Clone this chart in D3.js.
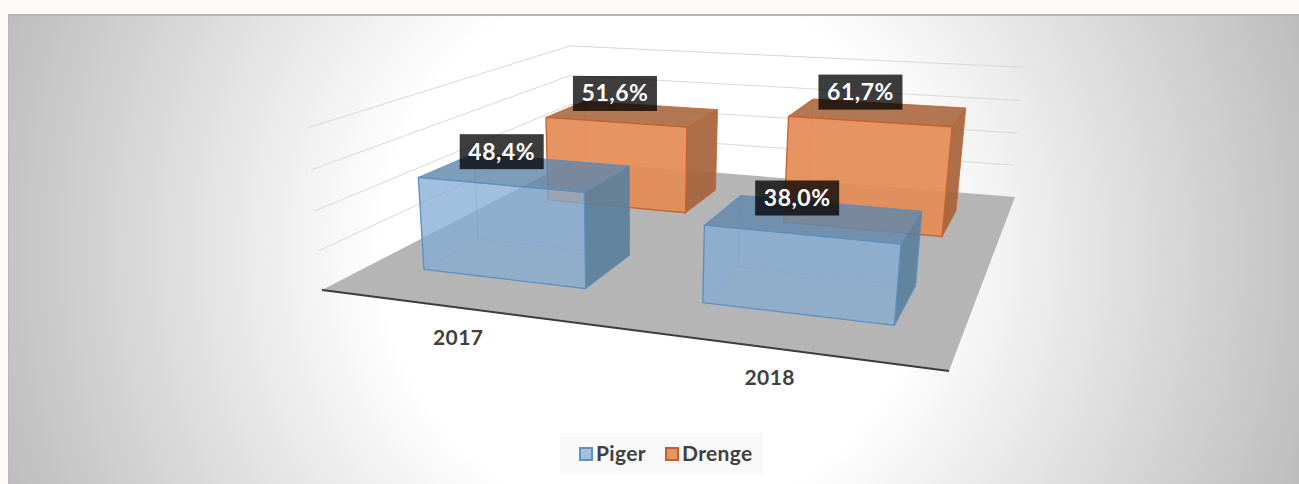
<!DOCTYPE html>
<html><head><meta charset="utf-8">
<script src="https://cdn.jsdelivr.net/npm/d3@7"></script>
<style>html,body{margin:0;padding:0;background:#fcfbf7;overflow:hidden}svg{display:block}text{font-family:Lato,sans-serif;font-weight:700}</style>
</head><body><svg id="c" width="1299" height="484"></svg>
<script>
const categories = ["2017","2018"];
const piger = [48.4,38.0];
const drenge = [51.6,61.7];
const valueLabels = {Piger:["48,4%","38,0%"],Drenge:["51,6%","61,7%"]};
const gridTicks = [20,40,60,80];
const legendItems = ["Piger","Drenge"];

const svg = d3.select("#c");
const defs = svg.append("defs");
const grad = defs.append("radialGradient").attr("id","bg").attr("gradientUnits","userSpaceOnUse")
  .attr("cx",652).attr("cy",250).attr("r",700);
grad.append("stop").attr("offset",.386).attr("stop-color","#fff");
grad.append("stop").attr("offset",1).attr("stop-color","#bbb");
svg.append("rect").attr("x",8).attr("y",14).attr("width",1291).attr("height",470).attr("fill","url(#bg)");
svg.append("rect").attr("x",8).attr("y",14).attr("width",1291).attr("height",2).attr("fill","#b8b8b8");
svg.append("rect").attr("x",8).attr("y",14).attr("width",1).attr("height",470).attr("fill","#b8b8b8");

// Projection of the chart's 3D box (u across, v depth, w height) on to the picture
const M = {a:468,b:501.86,c:322,p:-29, d:18.85,e:-58.11,f:290,q:-167.9, g:-.1675,h:.4403,r:-.046};
const project = (u,v,w)=>{
  const k = M.g*u+M.h*v+M.r*w+1;
  return [(M.a*u+M.b*v+M.c+M.p*w)/k,(M.d*u+M.e*v+M.f+M.q*w)/k];
};
const uScale = d3.scaleBand().domain(categories).range([0,1]).paddingInner(.4).paddingOuter(.2);
const vScale = d3.scaleBand().domain(["Piger","Drenge"]).range([0,1]).paddingInner(.61).paddingOuter(.305);
const wScale = d3.scaleLinear().domain([0,80]).range([0,1]);
const line = d3.line();

// gridlines on the walls
gridTicks.forEach(t=>{
  const w = wScale(t);
  svg.append("path").attr("d",line([project(0,0,w),project(0,1,w),project(.99,1,w)]))
    .attr("fill","none").attr("stroke","#dcd8d2").attr("stroke-width",1);
});
// floor
svg.append("path").attr("d",line([project(0,0,0),project(1,0,0),project(1,1,0),project(0,1,0)])+"Z").attr("fill","#b5b5b5");
svg.append("path").attr("d",line([project(0,0,0),project(1,0,0)])).attr("stroke","#3c3c3c").attr("stroke-width",2).attr("fill","none");

const styles = {
  Piger:{stroke:"#5b8fc0",front:"rgba(130,170,210,.72)",top:"rgba(98,135,170,.8)",side:"rgba(88,125,155,.88)",back:"rgba(130,170,210,.12)",swatch:"#a5c0da",swatchStroke:"#5b93c4"},
  Drenge:{stroke:"#c5622a",front:"rgba(228,140,85,.92)",top:"rgba(170,105,65,.9)",side:"rgba(165,100,60,.92)",back:"rgba(228,140,85,.1)",swatch:"#e59465",swatchStroke:"#c55f26"}
};
const labelShiftX = {Piger:[-24,-18],Drenge:[-18,-18]};
const rows = [];
["Drenge","Piger"].forEach(s=>categories.forEach((c,i)=>rows.push({s,c,i,val:(s==="Piger"?piger:drenge)[i]})));
rows.forEach(r=>{
  const u0=uScale(r.c),u1=u0+uScale.bandwidth(),v0=vScale(r.s),v1=v0+vScale.bandwidth(),w=wScale(r.val);
  const st=styles[r.s], g=svg.append("g");
  const face=(pts,fill,sw=1,op=1)=>g.append("path").attr("d",line(pts.map(p=>project(...p)))+"Z")
    .attr("fill",fill).attr("stroke",st.stroke).attr("stroke-width",sw).attr("stroke-opacity",op).attr("stroke-linejoin","round");
  face([[u0,v1,0],[u1,v1,0],[u1,v1,w],[u0,v1,w]],st.back,.8,.3);
  face([[u0,v0,0],[u0,v1,0],[u0,v1,w],[u0,v0,w]],st.back,.8,.3);
  face([[u1,v0,0],[u1,v1,0],[u1,v1,w],[u1,v0,w]],st.side,1,.8);
  face([[u0,v0,w],[u1,v0,w],[u1,v1,w],[u0,v1,w]],st.top,1,.8);
  face([[u0,v0,0],[u1,v0,0],[u1,v0,w],[u0,v0,w]],st.front,1.3,1);
});
// data labels
rows.forEach(r=>{
  const u=uScale(r.c)+uScale.bandwidth()/2, v=vScale(r.s)+vScale.bandwidth()/2, w=wScale(r.val);
  const [x,y]=project(u,v,w), cx=x+labelShiftX[r.s][r.i], cy=y-20;
  svg.append("rect").attr("x",cx-42).attr("y",cy-17.5).attr("width",84).attr("height",35).attr("fill","#000").attr("opacity",.76);
  svg.append("text").attr("x",cx).attr("y",cy+8).attr("text-anchor","middle").attr("fill","#fff")
    .attr("font-size",23).attr("letter-spacing",.5).text(valueLabels[r.s][r.i]);
});
// category labels
categories.forEach(c=>{
  const [x,y]=project(uScale(c)+uScale.bandwidth()/2,0,0);
  svg.append("text").attr("x",x).attr("y",y+37).attr("text-anchor","middle").attr("fill","#404040")
    .attr("font-size",21).attr("letter-spacing",.4).text(c);
});
// legend
svg.append("rect").attr("x",560).attr("y",433).attr("width",203).attr("height",42).attr("fill","#f9f9f9");
const legendX = d3.scalePoint().domain(legendItems).range([579,665]);
legendItems.forEach(n=>{
  const x=legendX(n), st=styles[n];
  svg.append("rect").attr("x",x+1).attr("y",448).attr("width",12).attr("height",12)
    .attr("fill",st.swatch).attr("stroke",st.swatchStroke).attr("stroke-width",2);
  svg.append("text").attr("x",x+17).attr("y",461).attr("fill","#404040").attr("font-size",21)
    .attr("letter-spacing",.35).text(n);
});
</script></body></html>
